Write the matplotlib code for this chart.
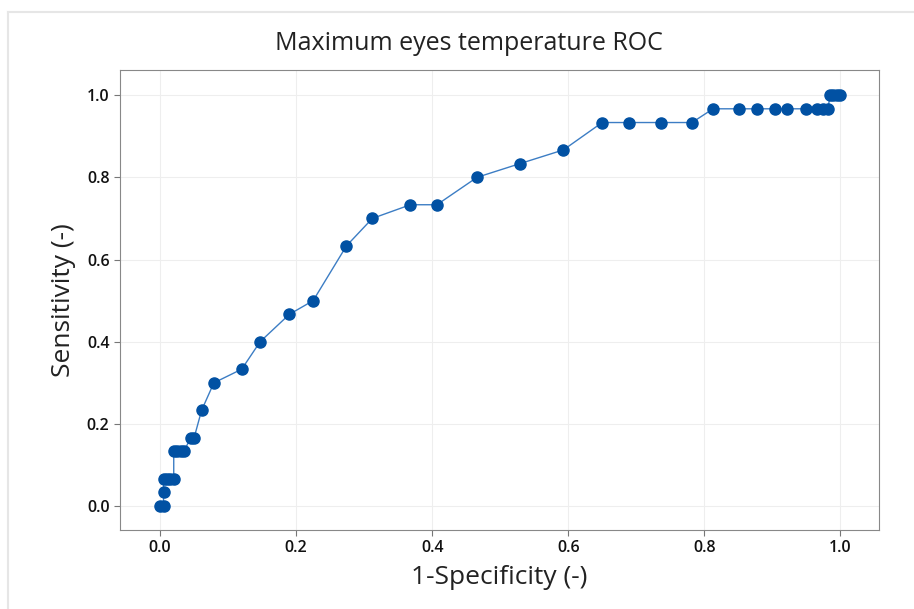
import matplotlib.pyplot as plt
from matplotlib.lines import Line2D

plt.rcParams["font.family"] = ["Open Sans", "DejaVu Sans"]

# ROC points (1-specificity, sensitivity)
fpr = [0.0, 0.005, 0.005, 0.005, 0.01, 0.015, 0.02,
       0.02, 0.025, 0.03, 0.035, 0.045, 0.05,
       0.061, 0.079, 0.12, 0.147, 0.19, 0.225, 0.274, 0.312,
       0.368, 0.407, 0.466, 0.529, 0.593,
       0.65, 0.69, 0.737, 0.782,
       0.813, 0.851, 0.878, 0.904, 0.922, 0.95, 0.966, 0.975, 0.982,
       0.985, 0.99, 0.995, 1.0]
tpr = [0.0, 0.0, 0.0333, 0.0667, 0.0667, 0.0667, 0.0667,
       0.1333, 0.1333, 0.1333, 0.1333, 0.1667, 0.1667,
       0.2333, 0.3, 0.3333, 0.4, 0.4667, 0.5, 0.6333, 0.7,
       0.7333, 0.7333, 0.8, 0.8333, 0.8667,
       0.9333, 0.9333, 0.9333, 0.9333,
       0.9667, 0.9667, 0.9667, 0.9667, 0.9667, 0.9667, 0.9667, 0.9667, 0.9667,
       1.0, 1.0, 1.0, 1.0]

ticks = [0.0, 0.2, 0.4, 0.6, 0.8, 1.0]

fig = plt.figure(figsize=(9.14, 6.09), dpi=100)
ax = fig.add_axes([0.1313, 0.1297, 0.8304, 0.7553])

ax.plot(fpr, tpr, color="#3C7DC4", linewidth=1.0, zorder=2)
ax.plot(fpr, tpr, linestyle="none", marker="o", markersize=8,
        color="#0151A3", zorder=3)

ax.set_xlim(-0.059, 1.057)
ax.set_ylim(-0.058, 1.061)
ax.set_xticks(ticks)
ax.set_yticks(ticks)
ax.set_xticklabels([f"{t:.1f}" for t in ticks])
ax.set_yticklabels([f"{t:.1f}" for t in ticks])
ax.tick_params(labelsize=11.5, length=4, color="#777777", labelcolor="#111111")
for lab in ax.get_xticklabels() + ax.get_yticklabels():
    lab.set_fontweight("semibold")
ax.grid(color="#EEEEEE", linewidth=0.8)
ax.set_axisbelow(True)
for sp in ax.spines.values():
    sp.set_color("#888888")

ax.set_xlabel("1-Specificity (-)", fontsize=19, labelpad=6, color="#222222")
ax.set_ylabel("Sensitivity (-)", fontsize=19, labelpad=8, color="#222222")
# title sits a bit left of the axes centre in the reference
fig.text(469 / 914, 1 - 44 / 609, "Maximum eyes temperature ROC",
         fontsize=18, ha="center", va="center", color="#222222")

# light outer frame
x0 = 8 / 914
y0 = 1 - 12 / 609
fig.add_artist(Line2D([x0, 1], [y0, y0], transform=fig.transFigure, color="#E6E6E6", linewidth=1.5))
fig.add_artist(Line2D([x0, x0], [0, y0], transform=fig.transFigure, color="#E6E6E6", linewidth=1.5))

fig.savefig("out.png", dpi=100)
